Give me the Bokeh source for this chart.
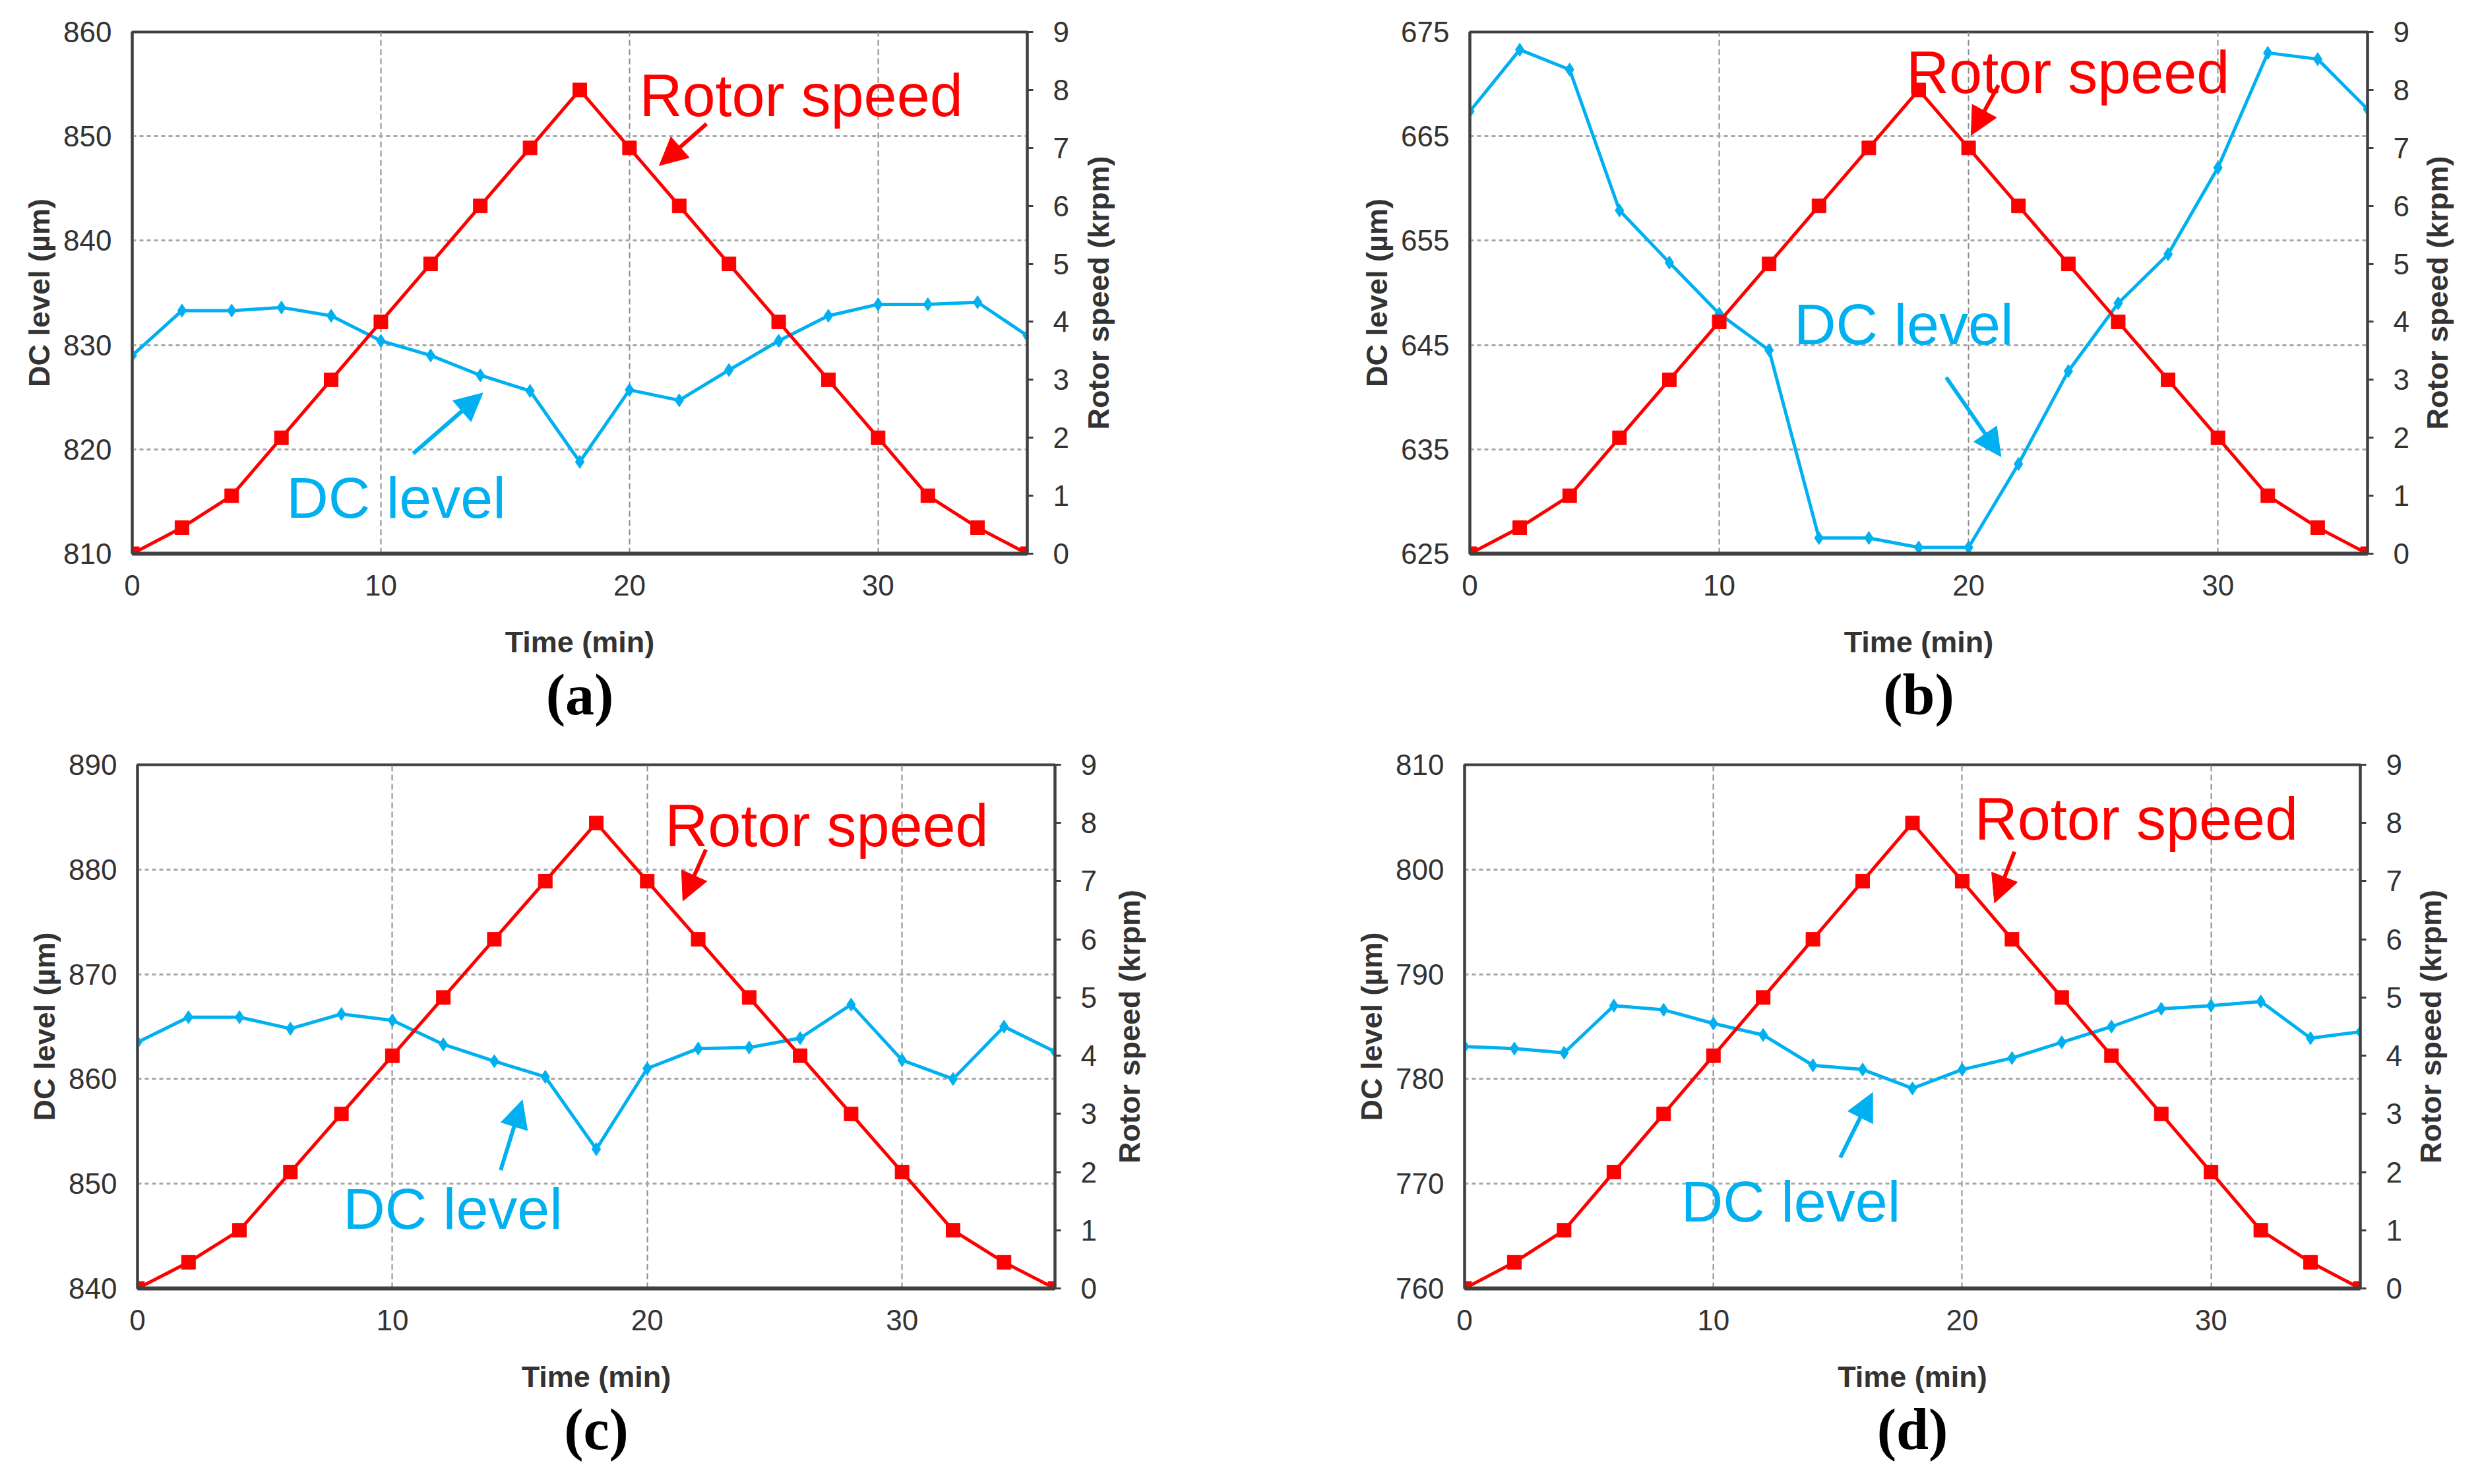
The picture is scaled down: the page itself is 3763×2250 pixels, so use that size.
from bokeh.plotting import figure
from bokeh.models import Range1d, LinearAxis, FixedTicker, Label, Arrow, NormalHead, Title
from bokeh.layouts import column, row
from bokeh.embed import file_html
from bokeh.resources import INLINE

# ---------------- data ----------------
time_min = [0, 2, 4, 6, 8, 10, 12, 14, 16, 18, 20, 22, 24, 26, 28, 30, 32, 34, 36]
rotor_speed = [0, 0.45, 1, 2, 3, 4, 5, 6, 7, 8, 7, 6, 5, 4, 3, 2, 1, 0.45, 0]

dc_a = [829.0, 833.3, 833.3, 833.6, 832.8, 830.4, 829.0, 827.1, 825.6, 818.8,
        825.7, 824.7, 827.6, 830.4, 832.8, 833.9, 833.9, 834.1, 830.9]
dc_b = [667.4, 673.3, 671.4, 657.9, 652.9, 648.0, 644.5, 626.5, 626.5, 625.6,
        625.6, 633.6, 642.5, 649.0, 653.7, 662.0, 673.0, 672.4, 667.6]
dc_c = [863.5, 865.9, 865.9, 864.8, 866.2, 865.6, 863.3, 861.7, 860.2, 853.3,
        861.0, 862.9, 863.0, 863.9, 867.1, 861.8, 860.0, 865.0, 862.6]
dc_d = [783.1, 782.9, 782.5, 787.0, 786.6, 785.3, 784.2, 781.3, 780.9, 779.1,
        780.9, 782.0, 783.5, 785.0, 786.7, 787.0, 787.4, 783.9, 784.5]

x_ticks = [0, 10, 20, 30]
rotor_ticks = [0, 1, 2, 3, 4, 5, 6, 7, 8, 9]
dc_ticks_a = [810, 820, 830, 840, 850, 860]
dc_ticks_b = [625, 635, 645, 655, 665, 675]
dc_ticks_c = [840, 850, 860, 870, 880, 890]
dc_ticks_d = [760, 770, 780, 790, 800, 810]

captions = ["(a)", "(b)", "(c)", "(d)"]

RED = "#FF0000"
CYAN = "#00B0F0"
SANS = "Liberation Sans"
CELL_W, FIG_H = 1872, 1116
RIGHT_PAD = 75

# layout per panel: left border, frame width, top border, bottom border, right-title offset
panels = [
    dict(cap=captions[0], dc=dc_a, ticks=dc_ticks_a, geo=(200, 1357, 45, 271, 108),
         rs_txt=(20.4, 853.9), rs_arr=(23.1, 851.2, 21.2, 847.2),
         dc_txt=(6.2, 815.4), dc_arr=(11.3, 819.6, 14.1, 825.4)),
    dict(cap=captions[1], dc=dc_b, ticks=dc_ticks_b, geo=(356, 1361, 48, 277, 106),
         rs_txt=(17.5, 671.1), rs_arr=(21.2, 669.9, 20.1, 665.1),
         dc_txt=(13.0, 647.0), dc_arr=(19.1, 641.9, 21.3, 634.3)),
    dict(cap=captions[2], dc=dc_c, ticks=dc_ticks_c, geo=(208, 1391, 43, 270, 113),
         rs_txt=(20.7, 884.2), rs_arr=(22.3, 881.9, 21.4, 877.0),
         dc_txt=(8.07, 847.6), dc_arr=(14.25, 851.3, 15.1, 858.0)),
    dict(cap=captions[3], dc=dc_d, ticks=dc_ticks_d, geo=(348, 1358, 32, 279, 107),
         rs_txt=(20.5, 804.8), rs_arr=(22.1, 801.7, 21.3, 796.8),
         dc_txt=(8.7, 768.3), dc_arr=(15.1, 772.5, 16.4, 778.7)),
]


def style_axis(ax):
    ax.major_label_text_font = SANS
    ax.major_label_text_font_size = "44px"
    ax.major_label_text_color = "#333333"
    ax.axis_label_text_font = SANS
    ax.axis_label_text_font_size = "45px"
    ax.axis_label_text_font_style = "bold"
    ax.axis_label_text_color = "#333333"
    ax.axis_line_color = "#404040"
    ax.axis_line_width = 4
    ax.minor_tick_line_color = None
    ax.major_tick_in = 0
    ax.major_tick_out = 0


def make_panel(cfg):
    bl, fw, bt, bb, roff = cfg["geo"]
    ticks = cfg["ticks"]
    ylo, yhi = ticks[0], ticks[-1]
    main_w = bl + fw + RIGHT_PAD
    side_w = CELL_W - main_w

    p = figure(width=main_w, height=FIG_H, output_backend="svg", toolbar_location=None,
               x_range=Range1d(0, 36), y_range=Range1d(ylo, yhi),
               min_border_left=bl, min_border_right=RIGHT_PAD, min_border_top=bt,
               min_border_bottom=bb)
    p.background_fill_color = "white"
    p.border_fill_color = "white"
    p.outline_line_color = "#404040"
    p.outline_line_width = 4
    p.extra_y_ranges = {"rotor": Range1d(0, 9)}

    p.xaxis.ticker = FixedTicker(ticks=x_ticks)
    p.yaxis.ticker = FixedTicker(ticks=ticks)
    p.xaxis.axis_label = "Time (min)"
    p.yaxis.axis_label = "DC level (\u00b5m)"
    for ax in (p.xaxis[0], p.yaxis[0]):
        style_axis(ax)
    p.xaxis.major_label_standoff = 32
    p.xaxis.axis_label_standoff = 42
    p.xaxis.axis_line_width = 6
    p.yaxis.major_label_standoff = 31
    p.yaxis.axis_label_standoff = 8

    rax = LinearAxis(y_range_name="rotor", ticker=FixedTicker(ticks=rotor_ticks))
    style_axis(rax)
    rax.major_tick_out = 9
    rax.major_tick_line_width = 3
    rax.major_tick_line_color = "#404040"
    rax.major_label_standoff = 30
    p.add_layout(rax, "right")

    p.xgrid.ticker = FixedTicker(ticks=x_ticks)
    p.xgrid.grid_line_color = "#8c8c8c"
    p.xgrid.grid_line_dash = "9 5"
    p.xgrid.grid_line_width = 2
    p.ygrid.grid_line_color = "#a6a6a6"
    p.ygrid.grid_line_dash = "6 5"
    p.ygrid.grid_line_width = 3

    dc = cfg["dc"]
    p.line(time_min, dc, line_color=CYAN, line_width=5)
    p.scatter(time_min, dc, marker="diamond", size=20, fill_color=CYAN, line_color=CYAN)
    p.line(time_min, rotor_speed, line_color=RED, line_width=5, y_range_name="rotor")
    p.scatter(time_min, rotor_speed, marker="square", size=21, fill_color=RED,
              line_color=RED, y_range_name="rotor")

    tx, ty = cfg["rs_txt"]
    p.add_layout(Label(x=tx, y=ty, text="Rotor speed", text_font=SANS,
                       text_font_size="90px", text_color=RED, text_baseline="alphabetic"))
    x0, y0, x1, y1 = cfg["rs_arr"]
    p.add_layout(Arrow(x_start=x0, y_start=y0, x_end=x1, y_end=y1, line_color=RED,
                       line_width=6, end=NormalHead(size=42, fill_color=RED, line_color=RED)))
    tx, ty = cfg["dc_txt"]
    p.add_layout(Label(x=tx, y=ty, text="DC level", text_font=SANS,
                       text_font_size="88px", text_color=CYAN, text_baseline="alphabetic"))
    x0, y0, x1, y1 = cfg["dc_arr"]
    p.add_layout(Arrow(x_start=x0, y_start=y0, x_end=x1, y_end=y1, line_color=CYAN,
                       line_width=6, end=NormalHead(size=42, fill_color=CYAN, line_color=CYAN)))

    p.add_layout(Title(text=cfg["cap"], align="center", text_font="Liberation Serif",
                       text_font_size="88px", text_font_style="bold", text_color="black",
                       standoff=2), "below")

    # narrow companion figure carrying the right-hand axis title (reads bottom-to-top)
    s = figure(width=side_w, height=FIG_H, output_backend="svg", toolbar_location=None,
               x_range=Range1d(0, 1), y_range=Range1d(0, 9), x_axis_location=None,
               min_border_left=roff - 50 - 0, min_border_right=0, min_border_top=bt,
               min_border_bottom=bb)
    s.outline_line_color = None
    s.background_fill_color = "white"
    s.border_fill_color = "white"
    s.grid.visible = False
    sax = s.yaxis[0]
    style_axis(sax)
    sax.ticker = FixedTicker(ticks=[])
    sax.axis_line_color = None
    sax.major_label_standoff = 0
    sax.axis_label_standoff = 0
    sax.axis_label = "Rotor speed (krpm)"
    return [p, s]


cells = [make_panel(c) for c in panels]
layout = column(row(*cells[0], *cells[1]), row(*cells[2], *cells[3]))

open("out.html", "w").write(file_html(layout, INLINE))
